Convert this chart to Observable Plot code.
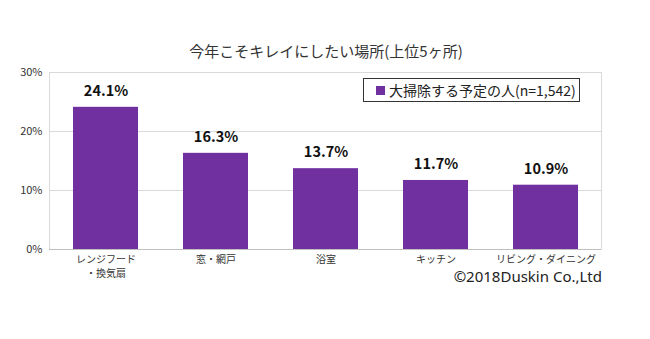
<!DOCTYPE html>
<html><head><meta charset="utf-8">
<script src="https://cdn.jsdelivr.net/npm/d3@7"></script>
<script src="https://cdn.jsdelivr.net/npm/@observablehq/plot@0.6"></script>
<style>
body{margin:0;background:#fff;font-family:"Noto Sans CJK JP","Noto Sans",sans-serif;}
#wrap{position:relative;width:650px;height:339px;}
#title{position:absolute;left:0;width:652px;top:40px;text-align:center;font-size:15px;color:#333;}
#legend{position:absolute;left:363px;top:78px;width:217px;height:24px;border:1px solid #333;box-sizing:border-box;font-size:14px;color:#222;display:flex;align-items:center;padding-left:12px;background:#fff;white-space:nowrap;}
#legend span.sw{display:inline-block;width:9px;height:9px;background:#7030A0;margin-right:4px;flex:none;}
#copy{position:absolute;right:48px;top:269px;font-size:15px;line-height:15px;color:#222;font-family:"Noto Sans","DejaVu Sans",sans-serif;}
</style></head>
<body><div id="wrap"></div>
<script>
const categories = ["レンジフード\n・換気扇","窓・網戸","浴室","キッチン","リビング・ダイニング"];
const values = [24.1, 16.3, 13.7, 11.7, 10.9];
const yTicks = [0, 10, 20, 30];
const seriesName = "大掃除する予定の人(n=1,542)";
const titleText = "今年こそキレイにしたい場所(上位5ヶ所)";
const copyText = "©2018Duskin Co.,Ltd";

const data = categories.map((c,i)=>({cat:c, v:values[i]}));

const chart = Plot.plot({
  width: 650, height: 339,
  marginTop: 72, marginBottom: 90, marginLeft: 49, marginRight: 49,
  style: {fontFamily: '"Noto Sans CJK JP","Noto Sans",sans-serif', fontSize: "11px", color: "#333"},
  x: {domain: categories, paddingInner: 0.41, paddingOuter: 0.2, label: null},
  y: {domain: [0, 30], label: null},
  marks: [
    Plot.gridY(yTicks, {stroke: "#d9d9d9", strokeOpacity: 1}),
    Plot.frame({stroke: "#d9d9d9"}),
    Plot.axisY(yTicks, {tickFormat: d => d + "%", tickSize: 0, tickPadding: 7, label: null, fontSize: 11}),
    Plot.axisX({tickSize: 0, tickPadding: 4, label: null, fontSize: 10, lineHeight: 1.4}),
    Plot.barY(data, {x: "cat", y: "v", fill: "#7030A0"}),
    Plot.ruleY([0], {stroke: "#bfbfbf"}),
    Plot.text(data, {x: "cat", y: "v", text: d => d.v.toFixed(1) + "%", dy: -16, fontWeight: "bold", fontSize: 14.5, fill: "#111"})
  ]
});
const wrap = document.getElementById("wrap");
wrap.appendChild(chart);
const t = document.createElement("div"); t.id="title"; t.textContent = titleText; wrap.appendChild(t);
const l = document.createElement("div"); l.id="legend"; l.innerHTML = '<span class="sw"></span>'; l.appendChild(document.createTextNode(seriesName)); wrap.appendChild(l);
const c = document.createElement("div"); c.id="copy"; c.textContent = copyText; wrap.appendChild(c);
</script></body></html>
